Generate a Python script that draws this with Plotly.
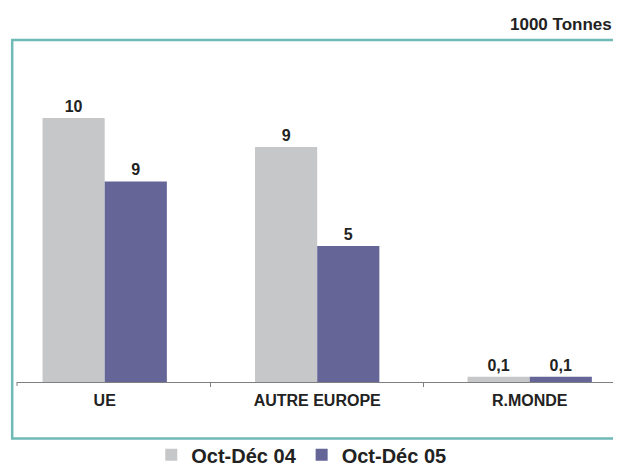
import plotly.graph_objects as go

categories = ["UE", "AUTRE EUROPE", "R.MONDE"]
series_names = ["Oct-Déc 04", "Oct-Déc 05"]
values_04 = [10.0, 8.9, 0.2]
values_05 = [7.6, 5.15, 0.2]
labels_04 = ["10", "9", "0,1"]
labels_05 = ["9", "5", "0,1"]
unit_label = "1000 Tonnes"

colors = ["#c6c7c9", "#656598"]
FONT = "Liberation Sans, Arial, sans-serif"

fig = go.Figure()
for name, vals, labs, col in [
    (series_names[0], values_04, labels_04, colors[0]),
    (series_names[1], values_05, labels_05, colors[1]),
]:
    fig.add_trace(go.Bar(
        x=categories, y=vals, name=name, marker_color=col, marker_line_width=0,
        text=labs, textposition="outside", cliponaxis=False,
        textfont=dict(family=FONT, size=16, color="#222222", weight="bold"),
        hoverinfo="skip",
    ))

fig.update_layout(
    width=613, height=459,
    margin=dict(l=9, r=3, t=52, b=85, autoexpand=False),
    paper_bgcolor="white", plot_bgcolor="white",
    barmode="group", bargap=0.415, bargroupgap=0,
    font=dict(family=FONT, color="#222222", weight="bold"),
    showlegend=True,
    legend=dict(orientation="h", x=0.473, xanchor="center", y=-0.226, yanchor="middle",
                font=dict(family=FONT, size=20, color="#222222", weight="bold"),
                itemwidth=30, tracegroupgap=0, bgcolor="rgba(0,0,0,0)"),
    xaxis=dict(range=[-0.4127, 2.4155], showline=True, linecolor="#7f7f7f", linewidth=1,
               ticks="outside", ticklen=4, tickcolor="#7f7f7f", tickson="boundaries",
               ticklabelstandoff=4,
               tickfont=dict(family=FONT, size=16, color="#222222", weight="bold"),
               showgrid=False, zeroline=False, fixedrange=True),
    yaxis=dict(range=[0, 12.2], visible=False, showgrid=False, zeroline=False, fixedrange=True),
    shapes=[
        dict(type="rect", xref="paper", yref="paper", x0=-0.008, x1=1.05, y0=-0.1755, y1=1.0621,
             line=dict(color="#6fb9b6", width=2.5), fillcolor="rgba(0,0,0,0)", layer="below"),
        dict(type="line", xref="paper", yref="paper", ysizemode="pixel", yanchor=0,
             x0=0, x1=0, y0=0, y1=-4, line=dict(color="#7f7f7f", width=1)),
        dict(type="line", xref="paper", yref="paper", ysizemode="pixel", yanchor=0,
             x0=1, x1=1, y0=0, y1=-4, line=dict(color="#7f7f7f", width=1)),
    ],
    annotations=[
        dict(text=unit_label, xref="paper", yref="paper", x=0.9928, y=1.1087,
             xanchor="right", yanchor="middle", showarrow=False,
             font=dict(family=FONT, size=17, color="#222222", weight="bold")),
    ],
)

fig.write_html("out.html")
